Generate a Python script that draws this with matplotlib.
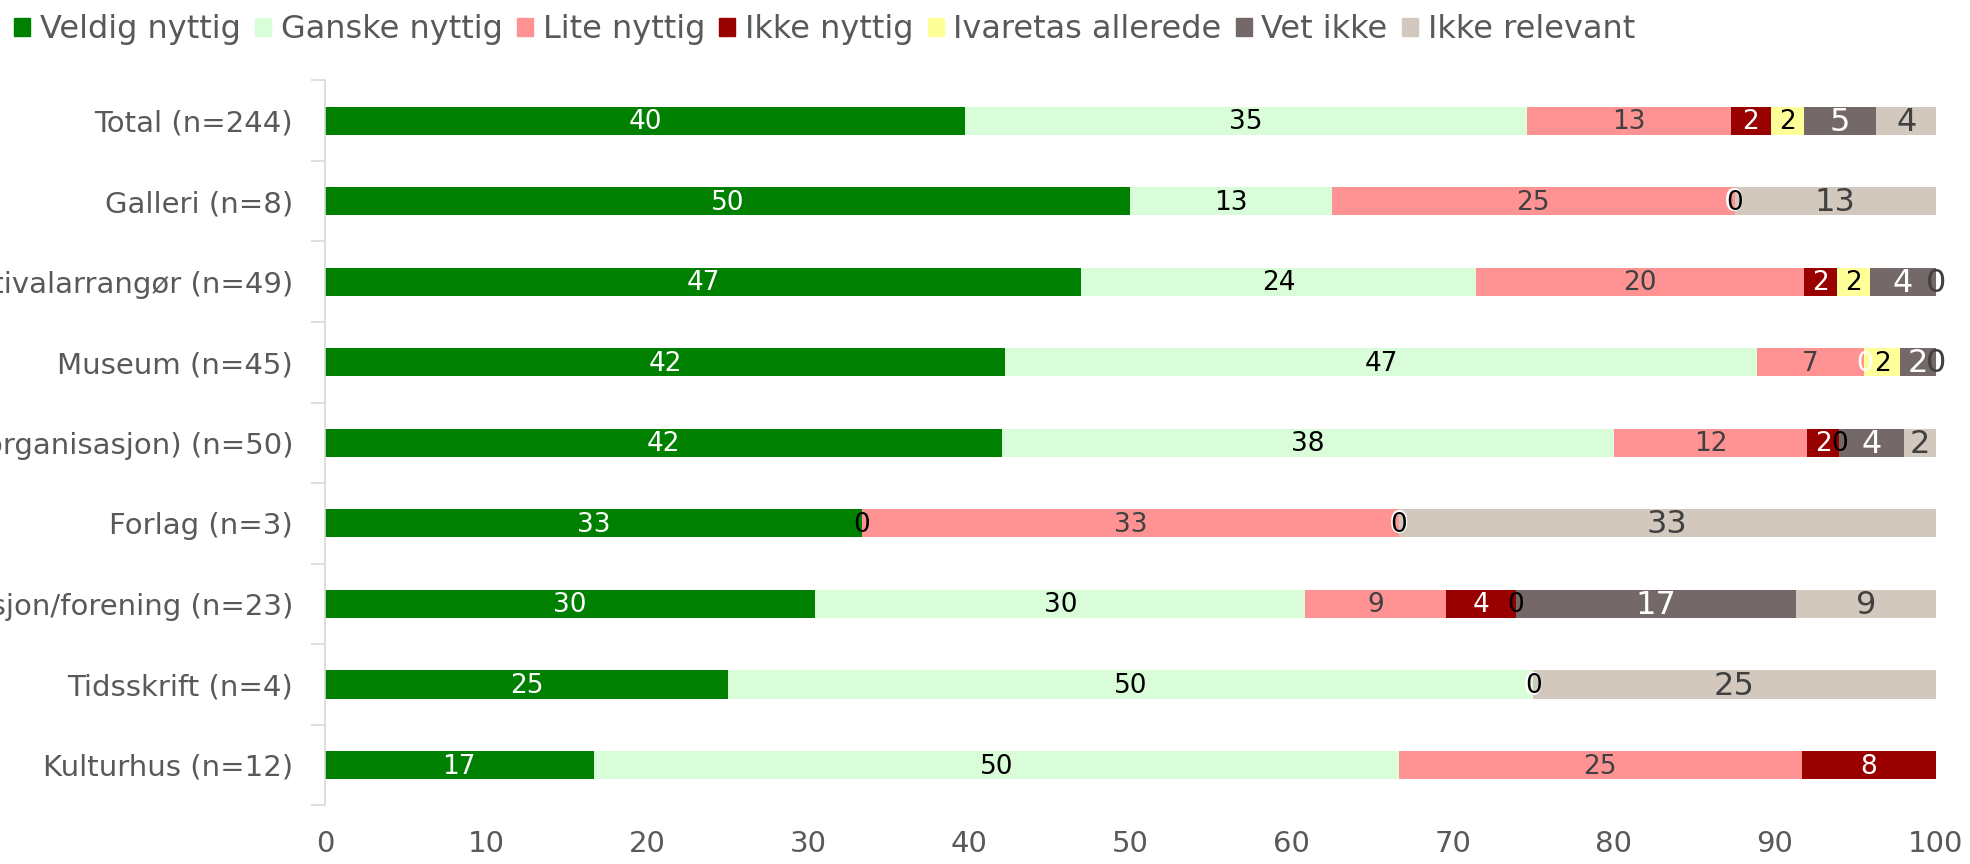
import numpy as np
import matplotlib.pyplot as plt
from matplotlib.patches import Patch

plt.rcParams['font.family'] = ['DejaVu Sans']

# kategorier (venstre tekst er kuttet i originalen)
categories = ['Total (n=244)', 'Galleri (n=8)', 'Festivalarrangør (n=49)', 'Museum (n=45)',
              'Kunstner (interesseorganisasjon) (n=50)', 'Forlag (n=3)',
              'Interesseorganisasjon/forening (n=23)', 'Tidsskrift (n=4)', 'Kulturhus (n=12)']

series = ['Veldig nyttig', 'Ganske nyttig', 'Lite nyttig', 'Ikke nyttig',
          'Ivaretas allerede', 'Vet ikke', 'Ikke relevant']

nan = np.nan
veldig_nyttig = [39.75, 50.0, 46.94, 42.22, 42.0, 33.33, 30.43, 25.0, 16.67]
ganske_nyttig = [34.84, 12.5, 24.49, 46.67, 38.0, 0.0, 30.43, 50.0, 50.0]
lite_nyttig = [12.70, 25.0, 20.41, 6.67, 12.0, 33.33, 8.70, nan, 25.0]
ikke_nyttig = [2.46, 0.0, 2.04, 0.0, 2.0, 0.0, 4.35, 0.0, 8.33]
ivaretas = [2.05, 0.0, 2.04, 2.22, 0.0, 0.0, 0.0, 0.0, nan]
vet_ikke = [4.51, 0.0, 4.08, 2.22, 4.0, 0.0, 17.39, 0.0, nan]
ikke_relevant = [3.69, 12.5, 0.0, 0.0, 2.0, 33.33, 8.70, 25.0, nan]

values = [veldig_nyttig, ganske_nyttig, lite_nyttig, ikke_nyttig, ivaretas, vet_ikke, ikke_relevant]
colors = ['#008000', '#D9FDD9', '#FF9393', '#990000', '#FFFF99', '#746968', '#D3C8BE']
label_colors = ['white', 'black', '#404040', 'white', 'black', 'white', '#404040']
label_sizes = [19, 19, 19, 19, 19, 23, 23]
label_z = [5, 5, 5, 5, 6, 4, 4]

fig = plt.figure(figsize=(19.7, 8.64), dpi=100)
ax = fig.add_axes([0.165, 0.068, 0.8177, 0.839])

y = np.arange(len(categories))
left = np.zeros(len(categories))
for i, name in enumerate(series):
    v = np.array(values[i], dtype=float)
    w = np.nan_to_num(v)
    ax.barh(y, w, left=left, height=0.35, color=colors[i], label=name, zorder=2)
    for j in range(len(categories)):
        if np.isnan(v[j]):
            continue
        ax.text(left[j] + w[j] / 2, y[j] + 0.02, str(int(v[j] + 0.5)), ha='center', va='center',
                color=label_colors[i], fontsize=label_sizes[i], zorder=label_z[i])
    left = left + w

ax.set_xlim(0, 100)
ax.set_ylim(8.5, -0.5)
ax.set_xticks(range(0, 101, 10))
ax.set_yticks(y)
ax.set_yticklabels(categories)
ax.set_yticks(np.arange(-0.5, 9, 1), minor=True)
ax.tick_params(axis='y', which='major', length=0, pad=23, labelsize=21, labelcolor='#595959')
ax.tick_params(axis='y', which='minor', length=10, width=1.2, color='#D9D9D9', direction='out')
ax.tick_params(axis='x', length=0, pad=18, labelsize=21, labelcolor='#595959')
for s in ['top', 'right', 'bottom']:
    ax.spines[s].set_visible(False)
ax.spines['left'].set_color('#D9D9D9')
ax.spines['left'].set_linewidth(1.2)

handles = [Patch(color=c, label=n) for c, n in zip(colors, series)]
fig.legend(handles=handles, loc='upper left', bbox_to_anchor=(0.0, 1.0), ncol=7, frameon=False,
           fontsize=23, handlelength=0.5, handleheight=0.5, handletextpad=0.3,
           columnspacing=0.45, labelcolor='#595959', borderaxespad=0.05)

fig.savefig('out.png', dpi=100)
